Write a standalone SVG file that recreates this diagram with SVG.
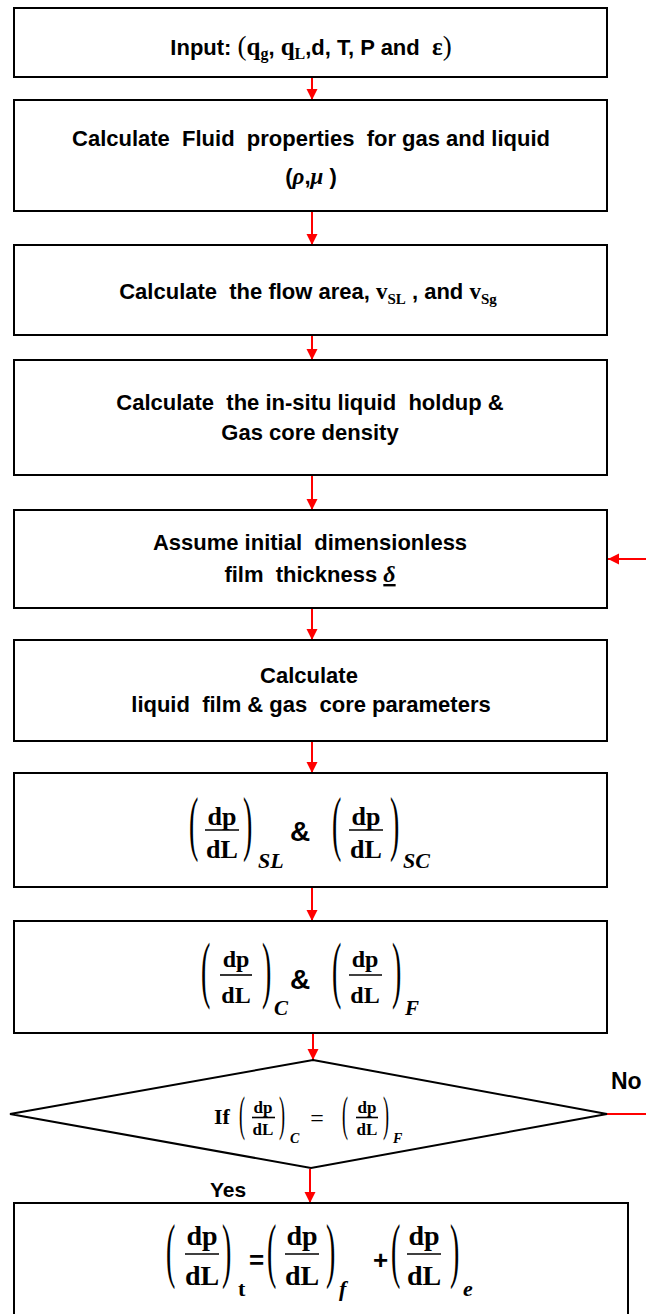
<svg xmlns="http://www.w3.org/2000/svg" width="646" height="1314" viewBox="0 0 646 1314">
<style>
.box{fill:#fff;stroke:#000;stroke-width:2}
.t{font-family:"Liberation Sans",Arial,sans-serif;font-weight:bold;fill:#000;white-space:pre}
.b{font-size:22px}
.m{font-family:"Liberation Serif","Times New Roman",serif;font-weight:bold;fill:#000}
.i{font-style:italic}
.p{font-family:"Liberation Serif","Times New Roman",serif;font-weight:normal;fill:#000}
.bar{stroke:#000;stroke-width:1.6}
.con{stroke:#f00;stroke-width:2;fill:none}
</style>
<defs>
<marker id="ah" viewBox="0 0 10 10" refX="10" refY="5" markerWidth="11" markerHeight="12" markerUnits="userSpaceOnUse" orient="auto">
<path d="M0,0 L10,5 L0,10 z" fill="#f00"/>
</marker>
</defs>

<g id="connectors">
<line class="con" x1="312" y1="78" x2="312" y2="100" marker-end="url(#ah)"/>
<line class="con" x1="312" y1="212" x2="312" y2="245" marker-end="url(#ah)"/>
<line class="con" x1="312" y1="336" x2="312" y2="360" marker-end="url(#ah)"/>
<line class="con" x1="312" y1="476" x2="312" y2="510" marker-end="url(#ah)"/>
<line class="con" x1="312" y1="609" x2="312" y2="640" marker-end="url(#ah)"/>
<line class="con" x1="312" y1="742" x2="312" y2="773" marker-end="url(#ah)"/>
<line class="con" x1="312" y1="888" x2="312" y2="921" marker-end="url(#ah)"/>
<line class="con" x1="313" y1="1033" x2="313" y2="1060" marker-end="url(#ah)"/>
<line class="con" x1="310" y1="1169" x2="310" y2="1203" marker-end="url(#ah)"/>
<line class="con" x1="607" y1="1114" x2="646" y2="1114"/>
<line class="con" x1="646" y1="559" x2="608" y2="559" marker-end="url(#ah)"/>
<text class="t" x="611" y="1089" style="font-size:23px">No</text>
<text class="t" x="210" y="1197" style="font-size:21px">Yes</text>
</g>

<g id="n1">
<rect class="box" x="14" y="8" width="593" height="69"/>
<text class="t b" x="311" y="55" text-anchor="middle">Input: <tspan class="p" font-size="27">(</tspan><tspan class="m" font-size="25">q</tspan><tspan class="m" font-size="16" dy="4">g</tspan><tspan dy="-4">, </tspan><tspan class="m" font-size="25">q</tspan><tspan class="m" font-size="16" dy="4">L</tspan><tspan dy="-4">,d, T, P and  </tspan><tspan class="m" font-size="25">ε</tspan><tspan class="p" font-size="27">)</tspan></text>
</g>

<g id="n2">
<rect class="box" x="14" y="100" width="593" height="111"/>
<text class="t b" x="311" y="146" text-anchor="middle">Calculate  Fluid  properties  for gas and liquid</text>
<text class="t b" x="311" y="184" text-anchor="middle">(<tspan class="m i" font-size="23">ρ</tspan>,<tspan class="m i" font-size="23">μ</tspan> )</text>
</g>

<g id="n3">
<rect class="box" x="14" y="245" width="593" height="90"/>
<text class="t b" x="308" y="299" text-anchor="middle">Calculate  the flow area, <tspan class="m" font-size="23">v</tspan><tspan class="m" font-size="15" dy="5">SL</tspan><tspan dy="-5"> , and </tspan><tspan class="m" font-size="23">v</tspan><tspan class="m" font-size="15" dy="5">Sg</tspan></text>
</g>

<g id="n4">
<rect class="box" x="14" y="360" width="593" height="115"/>
<text class="t b" x="310" y="410" text-anchor="middle">Calculate  the in-situ liquid  holdup &amp;</text>
<text class="t b" x="310" y="440" text-anchor="middle">Gas core density</text>
</g>

<g id="n5">
<rect class="box" x="14" y="510" width="593" height="98"/>
<text class="t b" x="310" y="550" text-anchor="middle">Assume initial  dimensionless</text>
<text class="t b" x="310" y="582" text-anchor="middle">film  thickness <tspan class="m i" font-size="24" text-decoration="underline">δ</tspan></text>
</g>

<g id="n6">
<rect class="box" x="14" y="640" width="593" height="101"/>
<text class="t b" x="309" y="683" text-anchor="middle">Calculate</text>
<text class="t b" x="311" y="712" text-anchor="middle">liquid  film &amp; gas  core parameters</text>
</g>

<g id="n7">
<rect class="box" x="14" y="773" width="593" height="114"/>
<text class="p" font-size="28" transform="translate(189,847) scale(1,2.6)">(</text>
<text class="m" font-size="26" x="222" y="825" text-anchor="middle">dp</text>
<line class="bar" x1="205" y1="830" x2="239" y2="830"/>
<text class="m" font-size="26" x="222" y="858" text-anchor="middle">dL</text>
<text class="p" font-size="28" transform="translate(243,847) scale(1,2.6)">)</text>
<text class="m i" font-size="22" x="258" y="868">SL</text>
<text class="t" style="font-size:28px" x="290" y="841">&amp;</text>
<text class="p" font-size="28" transform="translate(332,847) scale(1,2.6)">(</text>
<text class="m" font-size="26" x="366" y="825" text-anchor="middle">dp</text>
<line class="bar" x1="349" y1="830" x2="383" y2="830"/>
<text class="m" font-size="26" x="366" y="858" text-anchor="middle">dL</text>
<text class="p" font-size="28" transform="translate(390,847) scale(1,2.6)">)</text>
<text class="m i" font-size="22" x="403" y="868">SC</text>
</g>

<g id="n8">
<rect class="box" x="14" y="921" width="593" height="112"/>
<text class="p" font-size="28" transform="translate(201,994) scale(1,2.68)">(</text>
<text class="m" font-size="24" x="236" y="967" text-anchor="middle">dp</text>
<line class="bar" x1="220" y1="975" x2="252" y2="975"/>
<text class="m" font-size="24" x="236" y="1003" text-anchor="middle">dL</text>
<text class="p" font-size="28" transform="translate(262,994) scale(1,2.68)">)</text>
<text class="m i" font-size="21" x="274" y="1015">C</text>
<text class="t" style="font-size:28px" x="290" y="989">&amp;</text>
<text class="p" font-size="28" transform="translate(332,994) scale(1,2.68)">(</text>
<text class="m" font-size="24" x="365" y="967" text-anchor="middle">dp</text>
<line class="bar" x1="349" y1="975" x2="382" y2="975"/>
<text class="m" font-size="24" x="365" y="1003" text-anchor="middle">dL</text>
<text class="p" font-size="28" transform="translate(392,994) scale(1,2.68)">)</text>
<text class="m i" font-size="21" x="405" y="1015">F</text>
</g>

<g id="n9">
<polygon class="box" points="313,1060 607,1114 311,1168 10,1114"/>
<text class="m" font-size="22" x="214" y="1124">If</text>
<text class="p" font-size="18" transform="translate(239,1129.5) scale(1,2.67)">(</text>
<text class="m" font-size="17" x="263" y="1113" text-anchor="middle">dp</text>
<line class="bar" x1="252" y1="1117.5" x2="275" y2="1117.5" stroke-width="1.2"/>
<text class="m" font-size="17" x="263" y="1135" text-anchor="middle">dL</text>
<text class="p" font-size="18" transform="translate(279,1129.5) scale(1,2.67)">)</text>
<text class="m i" font-size="14" x="290" y="1143">C</text>
<text class="p" font-size="24" x="317" y="1126" text-anchor="middle">=</text>
<text class="p" font-size="18" transform="translate(342,1129.5) scale(1,2.67)">(</text>
<text class="m" font-size="17" x="367" y="1113" text-anchor="middle">dp</text>
<line class="bar" x1="356" y1="1117.5" x2="378" y2="1117.5" stroke-width="1.2"/>
<text class="m" font-size="17" x="367" y="1135" text-anchor="middle">dL</text>
<text class="p" font-size="18" transform="translate(383,1129.5) scale(1,2.67)">)</text>
<text class="m i" font-size="14" x="393" y="1143">F</text>
</g>

<g id="n10">
<rect class="box" x="14" y="1203" width="614" height="120"/>
<text class="p" font-size="28" transform="translate(166,1274) scale(1,2.6)">(</text>
<text class="m" font-size="28" x="202" y="1245" text-anchor="middle">dp</text>
<line class="bar" x1="185" y1="1254" x2="219" y2="1254"/>
<text class="m" font-size="28" x="202" y="1285" text-anchor="middle">dL</text>
<text class="p" font-size="28" transform="translate(222,1274) scale(1,2.6)">)</text>
<text class="m" font-size="22" x="238" y="1296">t</text>
<text class="t" style="font-size:26px" x="249" y="1269">=</text>
<text class="p" font-size="28" transform="translate(267,1274) scale(1,2.6)">(</text>
<text class="m" font-size="28" x="302" y="1245" text-anchor="middle">dp</text>
<line class="bar" x1="285" y1="1254" x2="319" y2="1254"/>
<text class="m" font-size="28" x="302" y="1285" text-anchor="middle">dL</text>
<text class="p" font-size="28" transform="translate(326,1274) scale(1,2.6)">)</text>
<text class="m i" font-size="22" x="339" y="1296">f</text>
<text class="t" style="font-size:26px" x="373" y="1269">+</text>
<text class="p" font-size="28" transform="translate(391,1274) scale(1,2.6)">(</text>
<text class="m" font-size="28" x="424" y="1245" text-anchor="middle">dp</text>
<line class="bar" x1="407" y1="1254" x2="441" y2="1254"/>
<text class="m" font-size="28" x="424" y="1285" text-anchor="middle">dL</text>
<text class="p" font-size="28" transform="translate(450,1274) scale(1,2.6)">)</text>
<text class="m i" font-size="22" x="463" y="1296">e</text>
</g>
</svg>
